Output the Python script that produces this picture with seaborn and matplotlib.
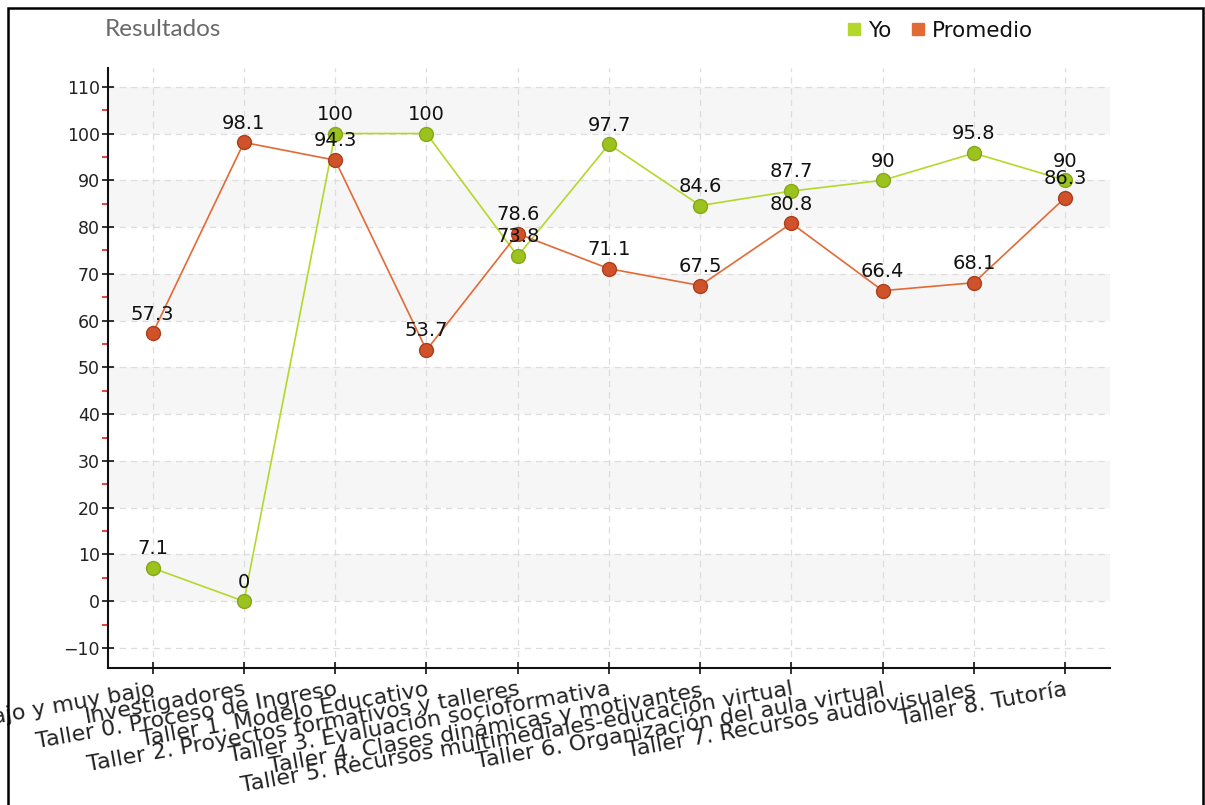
import matplotlib
matplotlib.use("Agg")
import matplotlib.pyplot as plt
import seaborn as sns
import pandas as pd
import numpy as np
from matplotlib.patches import Rectangle
from matplotlib.lines import Line2D

categories = [
    "Rendimiento bajo y muy bajo",
    "Investigadores",
    "Taller 0. Proceso de Ingreso",
    "Taller 1. Modelo Educativo",
    "Taller 2. Proyectos formativos y talleres",
    "Taller 3. Evaluación socioformativa",
    "Taller 4. Clases dinámicas y motivantes",
    "Taller 5. Recursos multimediales-educación virtual",
    "Taller 6. Organización del aula virtual",
    "Taller 7. Recursos audiovisuales",
    "Taller 8. Tutoría",
]
yo = [7.1, 0, 100, 100, 73.8, 97.7, 84.6, 87.7, 90, 95.8, 90]
promedio = [57.3, 98.1, 94.3, 53.7, 78.6, 71.1, 67.5, 80.8, 66.4, 68.1, 86.3]
y_ticks = list(range(-10, 111, 10))

sns.set_theme(style="white")
plt.rcParams["font.family"] = ["DejaVu Sans"]

fig = plt.figure(figsize=(12.05, 8.05), dpi=100)
ax = fig.add_axes([0.0896, 0.170, 0.8315, 0.7455])

ax.set_xlim(-0.49, 10.49)
ax.set_ylim(-14.3, 114)

# alternating background bands
for lo in range(0, 110, 20):
    ax.axhspan(lo, lo + 10, color="#f6f6f6", zorder=0, lw=0)

ax.set_yticks(y_ticks)
ax.set_xticks(range(len(categories)))
ax.grid(True, which="major", color="#dddddd", linestyle=(0, (5, 4)), linewidth=0.9)
ax.set_axisbelow(True)

df = pd.DataFrame({"x": np.arange(len(categories)), "Yo": yo, "Promedio": promedio})

series = [
    ("Yo", "#b4d82a", "#9cc21e", "#86a818"),
    ("Promedio", "#e26a35", "#d0522a", "#a8401e"),
]
for name, lc, mc, ec in series:
    sns.lineplot(data=df, x="x", y=name, ax=ax, color=lc, linewidth=1.2,
                 zorder=3, legend=False)
    ax.scatter(df["x"], df[name], s=100, color=mc, edgecolor=ec, linewidth=1.0,
               zorder=4)
    for xi, v in zip(df["x"], df[name]):
        ax.annotate(f"{v:g}", (xi, v), xytext=(0, 7), textcoords="offset points",
                    ha="center", va="bottom", fontsize=14, color="#111111",
                    zorder=5)

ax.set_xlabel("")
ax.set_ylabel("")
ax.set_xticklabels(categories, rotation=10, ha="right", rotation_mode="anchor",
                   fontsize=16, color="#222222")
ax.set_yticklabels([str(t).replace("-", "\u2212") for t in y_ticks],
                   fontsize=12.5, color="#222222")

ax.tick_params(axis="both", which="major", direction="inout", length=8, width=1.2,
               color="#111111", left=True, bottom=True)
ax.tick_params(axis="x", pad=4)
ax.tick_params(axis="y", pad=2)
ax.set_yticks([t + 5 for t in y_ticks[:-1]], minor=True)
ax.tick_params(axis="y", which="minor", direction="out", length=4, width=1.2,
               color="#e02020", left=True)

for side in ["top", "right"]:
    ax.spines[side].set_visible(False)
for side in ["left", "bottom"]:
    ax.spines[side].set_color("#111111")
    ax.spines[side].set_linewidth(1.5)

fig.text(105 / 1205, 1 - 30 / 805, "Resultados", fontsize=17.5, color="#6a6a6a",
         family=["Lato", "DejaVu Sans"], va="center", ha="left")

handles = [
    Line2D([], [], marker="s", linestyle="none", markersize=8, color="#b4d82a"),
    Line2D([], [], marker="s", linestyle="none", markersize=8, color="#e26a35"),
]
fig.legend(handles, ["Yo", "Promedio"], loc="center right",
           bbox_to_anchor=(1052 / 1205, 1 - 31 / 805), ncol=2, frameon=False,
           fontsize=15.5, handletextpad=0.25, columnspacing=0.8, handlelength=0.8,
           labelcolor="#111111")

fig.patches.append(Rectangle((8 / 1205, -0.01), 1195 / 1205, 1 - 8 / 805 + 0.01,
                             transform=fig.transFigure, fill=False,
                             edgecolor="black", linewidth=1.8))

fig.savefig("out.png", dpi=100, facecolor="white")
